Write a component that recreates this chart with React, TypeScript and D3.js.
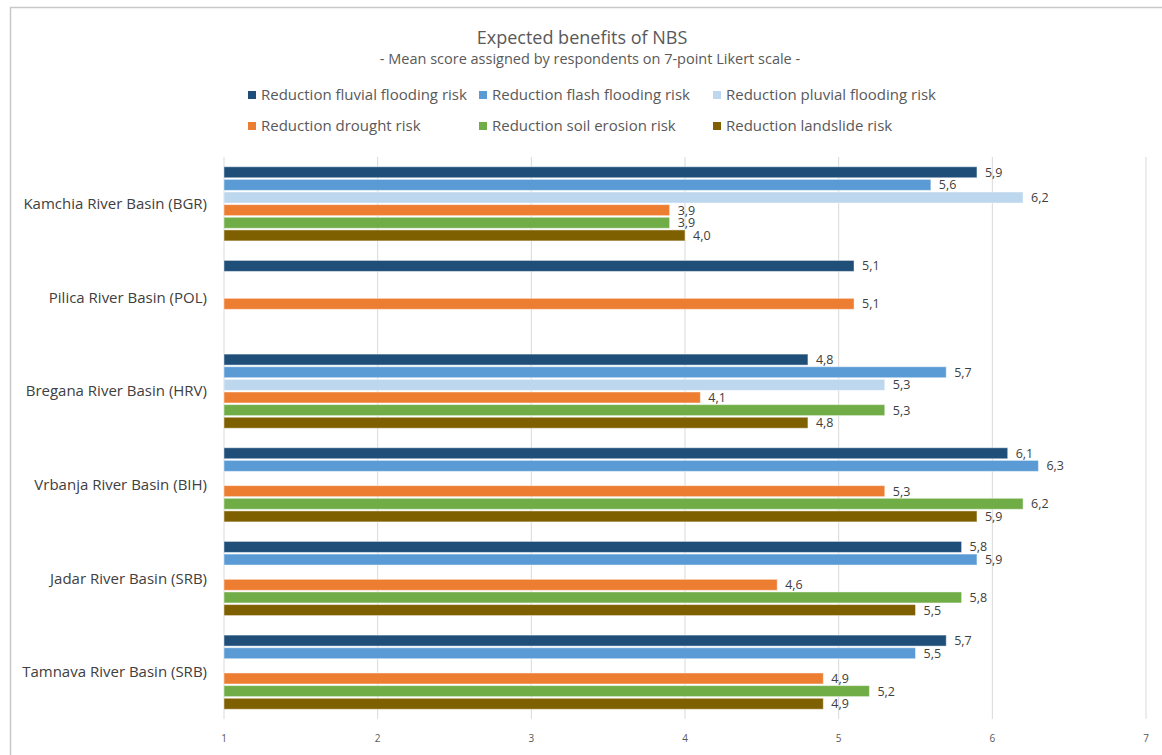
import React from "react";
import * as d3 from "d3";

const WIDTH = 1162;
const HEIGHT = 755;

const basins = [
  "Kamchia River Basin (BGR)",
  "Pilica River Basin (POL)",
  "Bregana River Basin (HRV)",
  "Vrbanja River Basin (BIH)",
  "Jadar River Basin (SRB)",
  "Tamnava River Basin (SRB)",
];

const seriesNames = [
  "Reduction fluvial flooding risk",
  "Reduction flash flooding risk",
  "Reduction pluvial flooding risk",
  "Reduction drought risk",
  "Reduction soil erosion risk",
  "Reduction landslide risk",
];

const seriesColors = ["#1F4E79", "#5B9BD5", "#BDD7EE", "#ED7D31", "#70AD47", "#7F6000"];

// One value per basin, in basin order; null = not assessed
const fluvial = [5.9, 5.1, 4.8, 6.1, 5.8, 5.7];
const flash = [5.6, null, 5.7, 6.3, 5.9, 5.5];
const pluvial = [6.2, null, 5.3, null, null, null];
const drought = [3.9, 5.1, 4.1, 5.3, 4.6, 4.9];
const soilErosion = [3.9, null, 5.3, 6.2, 5.8, 5.2];
const landslide = [4.0, null, 4.8, 5.9, 5.5, 4.9];

const seriesValues = [fluvial, flash, pluvial, drought, soilErosion, landslide];

const xTicks = [1, 2, 3, 4, 5, 6, 7];

const FONT = "'Open Sans', Lato, sans-serif";

export default function App() {
  const plotLeft = 224;
  const plotRight = 1146;
  const plotTop = 157;
  const plotBottom = 719;

  const x = d3.scaleLinear().domain([1, 7]).range([plotLeft, plotRight]);
  const y0 = d3.scaleBand<string>().domain(basins).range([plotTop, plotBottom]).padding(0);
  const inset = 9;
  const y1 = d3
    .scaleBand<string>()
    .domain(seriesNames)
    .range([inset, y0.bandwidth() - inset])
    .paddingInner(0.13)
    .paddingOuter(0.06);

  const fmt = (v: number) => v.toFixed(1).replace(".", ",");

  const legendCols = [248, 479, 713];
  const legendRows = [95, 126];

  return (
    <svg
      width={WIDTH}
      height={HEIGHT}
      style={{ position: "absolute", left: 0, top: 0, background: "#fff" }}
      fontFamily={FONT}
    >
      {/* chart frame */}
      <line x1={10} x2={WIDTH} y1={7.5} y2={7.5} stroke="#c8c8c8" strokeWidth={1.5} />
      <line x1={10.5} x2={10.5} y1={7} y2={HEIGHT} stroke="#c8c8c8" strokeWidth={1.5} />

      {/* titles */}
      <text x={582} y={44} textAnchor="middle" fontSize={18} fill="#595959">
        Expected benefits of NBS
      </text>
      <text x={590} y={64} textAnchor="middle" fontSize={14.5} fill="#595959">
        - Mean score assigned by respondents on 7-point Likert scale -
      </text>

      {/* legend */}
      {seriesNames.map((name, i) => {
        const cx = legendCols[i % 3];
        const cy = legendRows[Math.floor(i / 3)];
        return (
          <g key={name}>
            <rect x={cx} y={cy - 4} width={8} height={8} fill={seriesColors[i]} />
            <text x={cx + 13} y={cy + 5} fontSize={15} fill="#595959">
              {name}
            </text>
          </g>
        );
      })}

      {/* vertical gridlines */}
      {xTicks.map((t) => (
        <g key={t}>
          <line x1={x(t)} x2={x(t)} y1={plotTop} y2={plotBottom} stroke="#d9d9d9" strokeWidth={1} />
          <text x={x(t)} y={742} textAnchor="middle" fontSize={10} fill="#595959">
            {t}
          </text>
        </g>
      ))}

      {/* category labels */}
      {basins.map((b) => (
        <text
          key={b}
          x={207}
          y={(y0(b) ?? 0) + y0.bandwidth() / 2 + 5}
          textAnchor="end"
          fontSize={15}
          fill="#404040"
        >
          {b}
        </text>
      ))}

      {/* bars and value labels */}
      {basins.map((b, bi) => (
        <g key={b} transform={`translate(0,${y0(b)})`}>
          {seriesNames.map((s, si) => {
            const v = seriesValues[si][bi];
            if (v == null) return null;
            const yy = y1(s) ?? 0;
            const h = y1.bandwidth();
            return (
              <g key={s}>
                <rect
                  x={x(1)}
                  y={yy}
                  width={x(v) - x(1)}
                  height={h}
                  fill={seriesColors[si]}
                  stroke="#ffffff"
                  strokeOpacity={0.45}
                  strokeWidth={1}
                />
                <text x={x(v) + 8} y={yy + h / 2 + 4.5} fontSize={12.5} fill="#404040">
                  {fmt(v)}
                </text>
              </g>
            );
          })}
        </g>
      ))}
    </svg>
  );
}
